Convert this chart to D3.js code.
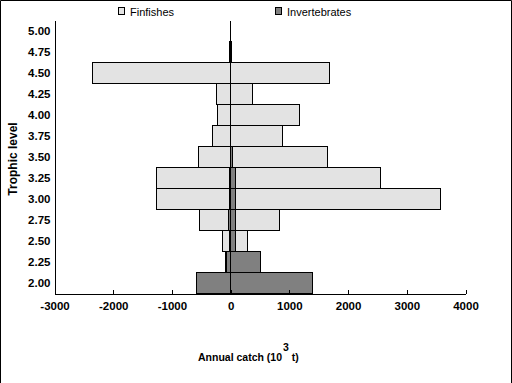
<!DOCTYPE html>
<html>
<head>
<meta charset="utf-8">
<script src="https://cdn.jsdelivr.net/npm/d3@7"></script>
<style>
  body { margin: 0; background: #fff; }
  svg { display: block; font-family: "Liberation Sans", Arial, sans-serif; }
  .tick text { font-weight: bold; font-size: 11.5px; fill: #000; }
  .legend-label { font-size: 11px; }
  .axis-title { font-weight: bold; font-size: 10.5px; }
</style>
</head>
<body>
<div id="chart"></div>
<script>
// trophic levels (bin centres, width 0.25)
const levels = [2.00, 2.25, 2.50, 2.75, 3.00, 3.25, 3.50, 3.75, 4.00, 4.25, 4.50, 4.75, 5.00];

// annual catch (10^3 t), left side is negative, right side positive
const finfishLeft  = [-570, -85, -135, -525, -1260, -1260, -555, -305, -220, -240, -2350, -15, 0];
const finfishRight = [1395, 495,  280,  840,  3575,  2560, 1650,  885, 1175,  375,  1690,  15, 0];
const invertLeft   = [-580, -65,  -25,  -30,   -15,   -15,   -5,    0,    0,    0,     0,   0, 0];
const invertRight  = [1400, 505,   80,   80,    75,    75,   25,    0,    0,    0,     0,   0, 0];

const xTicks = [-3000, -2000, -1000, 0, 1000, 2000, 3000, 4000];

const W = 512, H = 383;
const FIN = "#e3e3e3", INV = "#808080";

const svg = d3.select("#chart").append("svg")
  .attr("width", W).attr("height", H);

// outer frame
svg.append("path")
  .attr("d", `M0.5,${H} V0.5 H${W - 0.5} V${H}`)
  .attr("fill", "none").attr("stroke", "#000");

const x = d3.scaleLinear().domain([-3000, 4000]).range([54.5, 465.5]);
const y = d3.scaleLinear().domain([1.875, 5.125]).range([293.5, 20.5]);

const g = svg.append("g").attr("shape-rendering", "crispEdges");

function bars(left, right, fill) {
  const rows = levels.map((lv, i) => ({ lv, a: left[i], b: right[i] }))
    .filter(d => d.b - d.a > 0);
  g.selectAll(null).data(rows).enter().append("rect")
    .attr("x", d => x(d.a))
    .attr("width", d => x(d.b) - x(d.a))
    .attr("y", d => y(d.lv + 0.125))
    .attr("height", d => y(d.lv - 0.125) - y(d.lv + 0.125))
    .attr("fill", fill)
    .attr("stroke", "#000").attr("stroke-width", 1);
}
bars(finfishLeft, finfishRight, FIN);
bars(invertLeft, invertRight, INV);

// zero line
g.append("line")
  .attr("x1", x(0)).attr("x2", x(0))
  .attr("y1", y.range()[1]).attr("y2", y.range()[0])
  .attr("stroke", "#000");

// axes
const xAxis = svg.append("g")
  .attr("transform", `translate(0,${y.range()[0]})`)
  .attr("shape-rendering", "crispEdges")
  .call(d3.axisBottom(x).tickValues(xTicks).tickFormat(d => String(d))
    .tickSizeInner(-4).tickSizeOuter(0).tickPadding(8));

const yAxis = svg.append("g")
  .attr("transform", `translate(${x.range()[0]},0)`)
  .attr("shape-rendering", "crispEdges")
  .call(d3.axisLeft(y).tickValues(levels).tickFormat(d3.format(".2f"))
    .tickSize(0).tickPadding(4));

svg.selectAll(".domain").attr("stroke", "#000");
xAxis.selectAll(".tick text").attr("font-family", null).attr("font-size", null);
yAxis.selectAll(".tick text").attr("font-family", null).attr("font-size", null);

// axis titles
svg.append("text")
  .attr("class", "axis-title")
  .attr("transform", "translate(17,159) rotate(-90)")
  .attr("text-anchor", "middle")
  .style("font-size", "12px")
  .text("Trophic level");

const t = svg.append("text")
  .attr("class", "axis-title")
  .attr("x", 198).attr("y", 361);
t.append("tspan").text("Annual catch (10");
t.append("tspan").attr("dy", -10).attr("dx", 1).text("3");
t.append("tspan").attr("dy", 10).attr("dx", 0).text(" t)");

// legend
const legend = [
  { label: "Finfishes", fill: FIN, x: 118 },
  { label: "Invertebrates", fill: INV, x: 275 }
];
legend.forEach(d => {
  svg.append("rect")
    .attr("x", d.x + 0.5).attr("y", 7.5)
    .attr("width", 6).attr("height", 7)
    .attr("fill", d.fill).attr("stroke", "#000");
  svg.append("text")
    .attr("class", "legend-label")
    .attr("x", d.x + 12).attr("y", 15.5)
    .text(d.label);
});
</script>
</body>
</html>
